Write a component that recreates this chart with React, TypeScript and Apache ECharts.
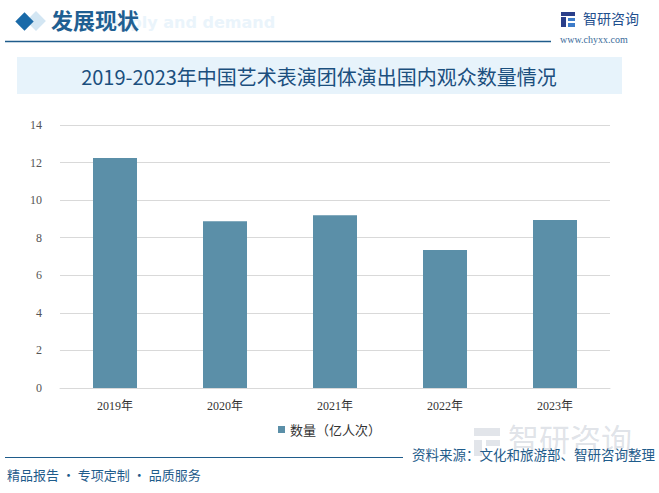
import React, { useEffect, useRef } from "react";
import * as echarts from "echarts";

const categories = ["2019年", "2020年", "2021年", "2022年", "2023年"];
const audience = [12.24, 8.88, 9.2, 7.34, 8.94];
const seriesName = "数量（亿人次）";
const chartTitle = "2019-2023年中国艺术表演团体演出国内观众数量情况";
const sourceText = "资料来源：文化和旅游部、智研咨询整理";
const sloganText = "精品报告 · 专项定制 · 品质服务";

export default function App() {
  const ref = useRef<HTMLDivElement>(null);
  useEffect(() => {
    if (!ref.current) return;
    const chart = echarts.init(ref.current, null, { renderer: "svg" });
    chart.setOption({
      animation: false,
      backgroundColor: "#ffffff",
      grid: { left: 60, right: 49, top: 125, bottom: 105, containLabel: false },
      legend: {
        show: true,
        bottom: 52,
        left: "center",
        itemWidth: 7,
        itemHeight: 7,
        icon: "rect",
        itemGap: 4,
        textStyle: { fontSize: 13, color: "#333", fontFamily: "'Noto Sans CJK SC', sans-serif" },
        data: [seriesName],
      },
      xAxis: {
        type: "category",
        data: categories,
        axisLine: { lineStyle: { color: "#d9d9d9" } },
        axisTick: { show: false },
        axisLabel: {
          color: "#333",
          fontSize: 12,
          margin: 12,
          fontFamily: "'Liberation Serif', 'Noto Sans CJK SC', serif",
        },
      },
      yAxis: {
        type: "value",
        min: 0,
        max: 14,
        interval: 2,
        axisLine: { show: false },
        axisTick: { show: false },
        splitLine: { lineStyle: { color: "#d9d9d9", width: 1 } },
        axisLabel: {
          color: "#555",
          fontSize: 12,
          margin: 18,
          fontFamily: "'Liberation Serif', serif",
        },
      },
      series: [
        {
          name: seriesName,
          type: "bar",
          data: audience,
          barWidth: "40%",
          itemStyle: { color: "#5b8fa8" },
        },
      ],
      graphic: [
        // watermark bottom right
        {
          type: "text",
          left: 508,
          top: 422,
          z: 0,
          style: {
            text: "智研咨询",
            fontSize: 31,
            fill: "rgba(150,160,180,0.3)",
            fontFamily: "'Noto Sans CJK SC', sans-serif",
          },
        },
        {
          type: "group",
          left: 474,
          top: 428,
          children: [
            { type: "rect", shape: { x: 0, y: 0, width: 26, height: 8 }, style: { fill: "rgba(150,160,180,0.28)" } },
            { type: "rect", shape: { x: 0, y: 12, width: 8, height: 16 }, style: { fill: "rgba(150,160,180,0.28)" } },
            { type: "rect", shape: { x: 12, y: 12, width: 14, height: 6 }, style: { fill: "rgba(150,160,180,0.28)" } },
          ],
        },
        // header watermark
        {
          type: "text",
          left: 96,
          top: 14,
          style: {
            text: "Supply and demand",
            fontSize: 16,
            fontWeight: "bold",
            fill: "#eaf4fb",
            fontFamily: "'DejaVu Sans', sans-serif",
          },
        },
        // header
        {
          type: "rect",
          shape: { x: 29, y: 14, width: 14, height: 14 },
          rotation: Math.PI / 4,
          originX: 36,
          originY: 21,
          style: { fill: "#d3e6f3" },
        },
        {
          type: "rect",
          shape: { x: 18, y: 15, width: 13, height: 13 },
          rotation: Math.PI / 4,
          originX: 24.5,
          originY: 21.5,
          style: { fill: "#1a6aa8" },
        },
        {
          type: "text",
          left: 51,
          top: 8,
          style: {
            text: "发展现状",
            fontSize: 22,
            fontWeight: "bold",
            fill: "#1f5f92",
            fontFamily: "'Noto Sans CJK SC', sans-serif",
          },
        },
        {
          type: "line",
          shape: { x1: 5, y1: 41.5, x2: 551, y2: 41.5 },
          style: { stroke: "#1f5c8b", lineWidth: 1.5 },
        },
        // logo
        {
          type: "group",
          left: 561,
          top: 12,
          children: [
            { type: "rect", shape: { x: 0, y: 0, width: 14, height: 4 }, style: { fill: "#2a3f8a" } },
            { type: "rect", shape: { x: 0, y: 5, width: 5, height: 10 }, style: { fill: "#2a3f8a" } },
            { type: "rect", shape: { x: 7, y: 6, width: 7, height: 3 }, style: { fill: "#3d7cc9" } },
            { type: "rect", shape: { x: 7, y: 11, width: 7, height: 4 }, style: { fill: "#3d7cc9" } },
          ],
        },
        {
          type: "text",
          left: 583,
          top: 11,
          style: {
            text: "智研咨询",
            fontSize: 14,
            fill: "#1f4f8e",
            fontFamily: "'Noto Sans CJK SC', sans-serif",
          },
        },
        {
          type: "text",
          left: 560,
          top: 34,
          style: {
            text: "www.chyxx.com",
            fontSize: 10,
            fill: "#3b6b9a",
            fontFamily: "'Liberation Serif', serif",
          },
        },
        // title band
        {
          type: "rect",
          shape: { x: 17, y: 57, width: 605, height: 37 },
          style: { fill: "#e7f3fb" },
        },
        {
          type: "text",
          x: 319,
          y: 76,
          style: {
            text: chartTitle,
            fontSize: 20,
            fill: "#1b4f7e",
            align: "center",
            verticalAlign: "middle",
            fontFamily: "'Noto Sans CJK SC', sans-serif",
          },
        },
        // footer
        {
          type: "line",
          shape: { x1: 5, y1: 457.5, x2: 403, y2: 457.5 },
          style: { stroke: "#1f5c8b", lineWidth: 1.2 },
        },
        {
          type: "text",
          right: 4,
          top: 447,
          style: {
            text: sourceText,
            fontSize: 13.5,
            fill: "#1f5c8b",
            fontFamily: "'Noto Sans CJK SC', sans-serif",
          },
        },
        {
          type: "text",
          left: 7,
          top: 468,
          style: {
            text: sloganText,
            fontSize: 13,
            fill: "#1f5c8b",
            fontFamily: "'Noto Sans CJK SC', sans-serif",
          },
        },
      ],
    });
    return () => chart.dispose();
  }, []);
  return <div ref={ref} style={{ width: 659, height: 493, position: "absolute", left: 0, top: 0 }} />;
}
